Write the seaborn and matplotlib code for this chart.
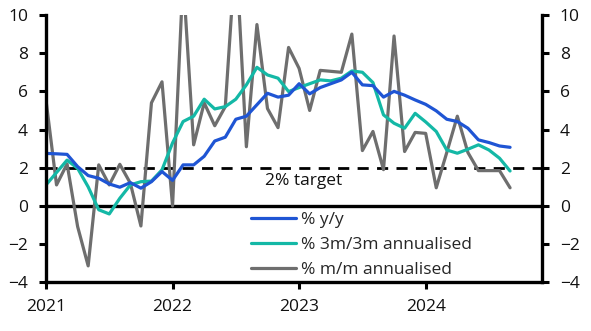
import numpy as np
import pandas as pd
import matplotlib
matplotlib.use("Agg")
import matplotlib.pyplot as plt
import seaborn as sns
from matplotlib.lines import Line2D

# ---- data (monthly, Jan 2021 - Sep 2024) ----
months = pd.date_range("2021-01-01", "2024-09-01", freq="MS")
yoy = [2.75, 2.73, 2.70, 2.06, 1.59, 1.45, 1.15, 0.98, 1.22, 0.93, 1.27, 1.80,
       1.34, 2.15, 2.15, 2.60, 3.40, 3.60, 4.54, 4.70, 5.30, 5.90, 5.70, 5.80,
       6.40, 5.87, 6.20, 6.40, 6.60, 7.00, 6.34, 6.30, 5.70, 6.00, 5.80, 5.55,
       5.32, 4.98, 4.54, 4.42, 4.07, 3.46, 3.32, 3.14, 3.07]
m3m3 = [1.10, 1.75, 2.40, 1.97, 1.00, -0.20, -0.42, 0.40, 1.10, 1.27, 1.30, 1.89,
        3.30, 4.42, 4.70, 5.59, 5.08, 5.20, 5.59, 6.34, 7.26, 6.86, 6.69, 5.99,
        6.20, 6.40, 6.60, 6.55, 6.69, 7.07, 7.00, 6.46, 4.77, 4.33, 4.07, 4.85,
        4.40, 3.90, 2.93, 2.76, 2.97, 3.20, 2.93, 2.50, 1.83]
mm = [5.55, 1.10, 2.20, -1.08, -3.14, 2.15, 1.10, 2.18, 1.19, -1.05, 5.40, 6.50,
      0.00, 12.0, 3.20, 5.40, 4.20, 5.20, 13.5, 3.10, 9.50, 5.10, 4.10, 8.30,
      7.20, 5.00, 7.10, 7.05, 7.00, 9.00, 2.90, 3.90, 1.90, 8.90, 2.85, 3.85,
      3.80, 0.95, 2.80, 4.70, 2.80, 1.85, 1.85, 1.85, 0.95]
labels = ["% y/y", "% 3m/3m annualised", "% m/m annualised"]
colors = ["#1F55D4", "#14B8A6", "#6E6E6E"]
year_ticks = ["2021", "2022", "2023", "2024"]

idx = np.arange(len(months))
df = pd.concat([
    pd.DataFrame({"x": idx, "value": yoy, "series": labels[0]}),
    pd.DataFrame({"x": idx, "value": m3m3, "series": labels[1]}),
    pd.DataFrame({"x": idx, "value": mm, "series": labels[2]}),
])

sns.set_style("white")
plt.rcParams["font.family"] = ["Open Sans", "DejaVu Sans"]
plt.rcParams["font.size"] = 12.5

fig = plt.figure(figsize=(5.91, 3.31), dpi=100)
ax = fig.add_axes([0.0778, 0.1471, 0.9166 - 0.0778, 0.9547 - 0.1471])

# draw grey first so blue/teal on top
order = [labels[2], labels[1], labels[0]]
for lab in order:
    sub = df[df["series"] == lab]
    sns.lineplot(data=sub, x="x", y="value", ax=ax, color=colors[labels.index(lab)],
                 linewidth=2.3, legend=False)

ax.axhline(0, color="black", lw=2.4, zorder=1)
ax.axhline(2, color="black", lw=2.0, ls=(0, (4, 3)), zorder=1.5)
ax.text(24.4, 1.3, "2% target", ha="center", va="center", fontsize=12.5, color="#111111")

ax.set_xlim(0, 47)
ax.set_ylim(-4, 10)
ax.set_xticks([0, 12, 24, 36])
ax.set_xticklabels(year_ticks)
ax.set_yticks(range(-4, 11, 2))
ax.set_xlabel("")
ax.set_ylabel("")

for s in ["left", "bottom", "right"]:
    ax.spines[s].set_visible(True)
    ax.spines[s].set_color("black")
    ax.spines[s].set_linewidth(2.4)
ax.spines["top"].set_visible(False)

ax.tick_params(axis="y", direction="out", length=5, width=2.2, color="black",
               pad=8, labelsize=12.5, labelcolor="#111111", left=True, right=True,
               labelleft=True, labelright=True)
ax.tick_params(axis="x", direction="out", length=5, width=2.2, color="black",
               pad=7, labelsize=12.5, labelcolor="#111111", bottom=True)

handles = [Line2D([], [], color=c, lw=2.3) for c in colors]
ax.legend(handles, labels, loc="upper left", bbox_to_anchor=(0.413, 0.262),
          frameon=False, handlelength=2.6, handletextpad=0.3, labelspacing=0.5,
          fontsize=12.5, borderaxespad=0, borderpad=0)

fig.savefig("out.png", dpi=100)
